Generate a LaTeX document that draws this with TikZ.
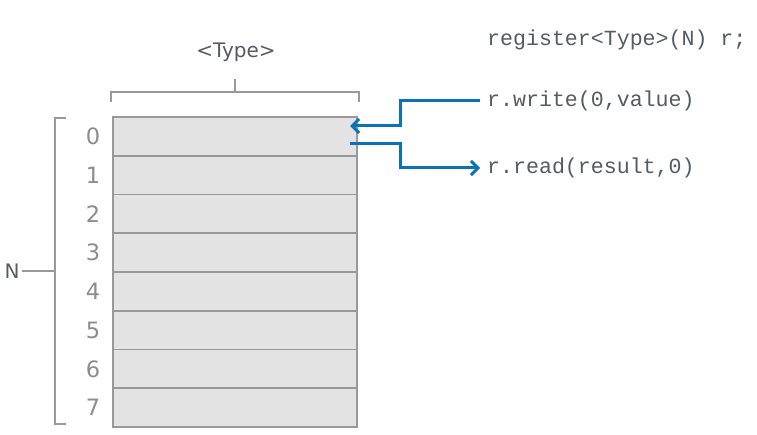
\documentclass[tikz,border=0pt]{standalone}
\usepackage{fontspec}
\setmainfont{DejaVu Sans}
\newfontfamily\codefont{Liberation Mono}
\usepackage{tikz}
\usetikzlibrary{arrows.meta}
\pgfdeclarelayer{edgelayer}
\pgfdeclarelayer{nodelayer}
\pgfsetlayers{edgelayer,nodelayer,main}
\definecolor{rowfill}{HTML}{E3E3E3}
\definecolor{rowline}{HTML}{999999}
\definecolor{labelgray}{HTML}{555B61}
\definecolor{digitgray}{HTML}{8C8C8C}
\definecolor{callblue}{HTML}{0A72B8}
\tikzstyle{none}=[inner sep=0pt]
\tikzstyle{cell}=[draw=rowline, line width=1.8pt, fill=rowfill, minimum width=244pt, minimum height=38.75pt, inner sep=0pt]
\tikzstyle{index}=[inner sep=0pt, text=digitgray, font=\fontsize{22.5}{22.5}\selectfont]
\tikzstyle{label}=[inner sep=0pt, text=labelgray, font=\fontsize{20}{20}\selectfont]
\tikzstyle{code}=[inner sep=0pt, anchor=west, text=labelgray, font=\codefont\fontsize{21.6}{21.6}\selectfont]
\tikzstyle{brace}=[draw=rowline, line width=1.5pt]
\tikzstyle{call}=[draw=callblue, line width=3pt, -{Straight Barb[length=7pt,width=14pt,line width=3pt]}]

\begin{document}
\begin{tikzpicture}[x=1pt,y=-1pt]
					\useasboundingbox (0,0) rectangle (757,435);
					\begin{pgfonlayer}{nodelayer}
						\node [style=cell] (r0) at (235, 136.4) {};
						\node [style=cell] (r1) at (235, 175.1) {};
						\node [style=cell] (r2) at (235, 213.9) {};
						\node [style=cell] (r3) at (235, 252.6) {};
						\node [style=cell] (r4) at (235, 291.4) {};
						\node [style=cell] (r5) at (235, 330.1) {};
						\node [style=cell] (r6) at (235, 368.9) {};
						\node [style=cell] (r7) at (235, 407.6) {};
						\node [style=index] (i0) at (93, 136.4) {0};
						\node [style=index] (i1) at (93, 175.1) {1};
						\node [style=index] (i2) at (93, 213.9) {2};
						\node [style=index] (i3) at (93, 252.6) {3};
						\node [style=index] (i4) at (93, 291.4) {4};
						\node [style=index] (i5) at (93, 330.1) {5};
						\node [style=index] (i6) at (93, 368.9) {6};
						\node [style=index] (i7) at (93, 407.6) {7};
						\node [style=label] (type) at (236, 52) {<Type>};
						\node [style=label] (n) at (12, 271) {N};
						\node [style=code] (decl) at (487, 40) {register<Type>(N) r;};
						\node [style=code] (write) at (487, 101) {r.write(0,value)};
						\node [style=code] (read) at (487, 168) {r.read(result,0)};
						\node [style=none] (0) at (111, 102) {};
						\node [style=none] (1) at (111, 92) {};
						\node [style=none] (2) at (359, 92) {};
						\node [style=none] (3) at (359, 102) {};
						\node [style=none] (4) at (235, 92) {};
						\node [style=none] (5) at (235, 79) {};
						\node [style=none] (6) at (66, 118) {};
						\node [style=none] (7) at (55, 118) {};
						\node [style=none] (8) at (55, 424) {};
						\node [style=none] (9) at (66, 424) {};
						\node [style=none] (10) at (55, 271) {};
						\node [style=none] (11) at (22, 271) {};
						\node [style=none] (12) at (480, 101) {};
						\node [style=none] (13) at (400, 126) {};
						\node [style=none] (14) at (350, 126) {};
						\node [style=none] (15) at (350, 144) {};
						\node [style=none] (16) at (400, 144) {};
						\node [style=none] (17) at (480, 168) {};
					\end{pgfonlayer}
					\begin{pgfonlayer}{edgelayer}
						\draw [style=brace] (0.center) to (1.center) to (2.center) to (3.center);
						\draw [style=brace] (4.center) to (5.center);
						\draw [style=brace] (6.center) to (7.center) to (8.center) to (9.center);
						\draw [style=brace] (10.center) to (11.center);
					\end{pgfonlayer}
					\draw [style=call] (12.center) -| (13.center) to (14.center);
					\draw [style=call] (15.center) to (16.center) |- (17.center);
				\end{tikzpicture}
\end{document}
